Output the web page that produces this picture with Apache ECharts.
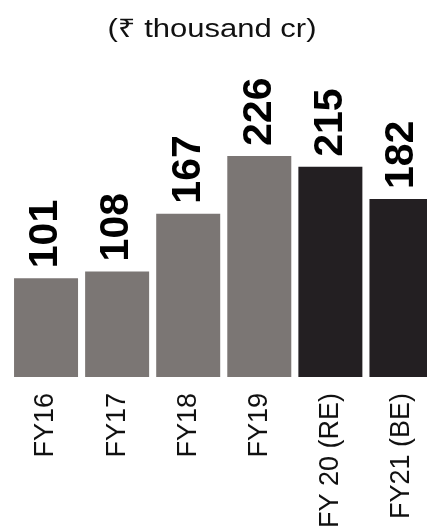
<!DOCTYPE html>
<html>
<head>
<meta charset="utf-8">
<script src="https://cdn.jsdelivr.net/npm/echarts@6/dist/echarts.min.js"></script>
<style>
html,body{margin:0;padding:0;background:#fff;}
#chart{width:427px;height:532px;}
</style>
</head>
<body>
<div id="chart"></div>
<script>
var titleText = '(₹ thousand cr)';
var categories = ['FY16', 'FY17', 'FY18', 'FY19', 'FY 20 (RE)', 'FY21 (BE)'];
var values = [101, 108, 167, 226, 215, 182];
var isEstimate = [false, false, false, false, true, true];

var chart = echarts.init(document.getElementById('chart'), null, {renderer: 'canvas'});
var data = values.map(function (v, i) {
  return {value: v, itemStyle: {color: isEstimate[i] ? '#231f22' : '#7b7674'}};
});
chart.setOption({
  animation: false,
  backgroundColor: '#ffffff',
  graphic: [{
    type: 'text',
    x: 212,
    y: 18,
    scaleX: 1.24,
    style: {
      text: titleText,
      fill: '#111111',
      font: '25px "Liberation Sans", "Noto Sans", sans-serif',
      align: 'center',
      verticalAlign: 'top'
    }
  }],
  grid: {left: 10.5, width: 426.5, top: 83.6, bottom: 155, outerBoundsMode: 'none', containLabel: false},
  xAxis: {
    type: 'category',
    data: categories,
    axisLine: {show: false},
    axisTick: {show: false},
    axisLabel: {rotate: 90, margin: 16, fontSize: 27, color: '#111111', fontFamily: 'Liberation Sans, sans-serif', interval: 0}
  },
  yAxis: {type: 'value', min: 0, max: 300, show: false, splitLine: {show: false}},
  series: [{
    type: 'bar',
    data: data,
    barWidth: 64,
    label: {
      show: true,
      position: 'top',
      rotate: 90,
      align: 'left',
      verticalAlign: 'middle',
      distance: 10,
      fontSize: 41,
      fontWeight: 'bold',
      color: '#000000',
      fontFamily: 'Liberation Sans, sans-serif'
    }
  }]
});
</script>
</body>
</html>
